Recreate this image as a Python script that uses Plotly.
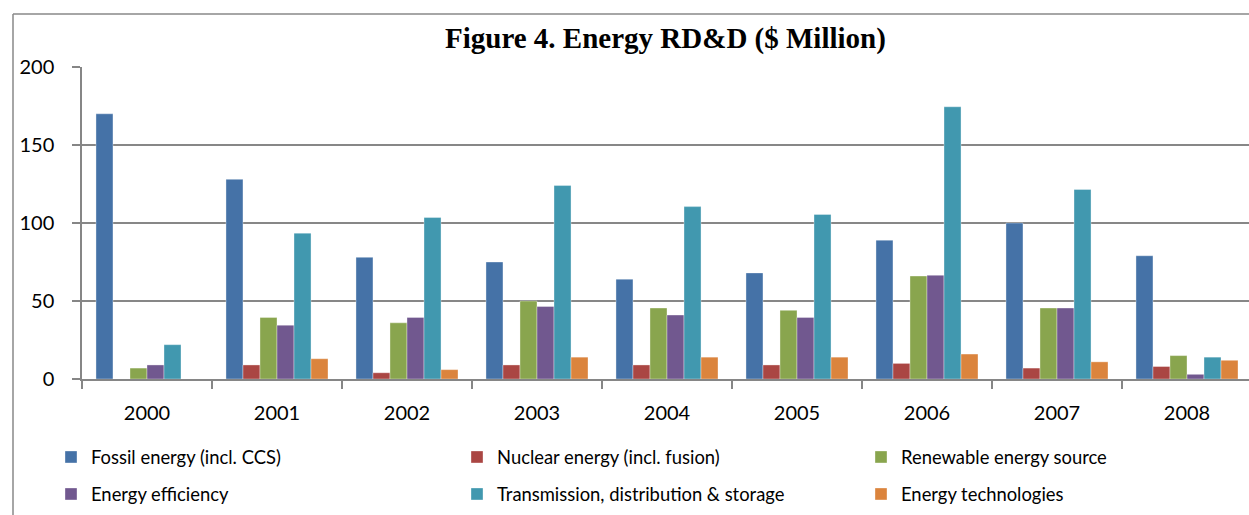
import plotly.graph_objects as go

years = ["2000", "2001", "2002", "2003", "2004", "2005", "2006", "2007", "2008"]
fossil = [170, 128, 78, 75, 64, 68, 89, 100, 79]
nuclear = [0, 9, 4, 9, 9, 9, 10, 7, 8]
renewable = [7, 39.5, 36, 50, 45.5, 44, 66, 45.5, 15]
efficiency = [9, 34.5, 39.5, 46.5, 41, 39.5, 66.5, 45.5, 3]
transmission = [22, 93.5, 103.5, 124, 110.5, 105.5, 174.5, 121.5, 14]
technologies = [0, 13, 6, 14, 14, 14, 16, 11, 12]

series_names = ["Fossil energy (incl. CCS)", "Nuclear energy (incl. fusion)",
                "Renewable energy source", "Energy efficiency",
                "Transmission, distribution & storage", "Energy technologies"]
series_values = [fossil, nuclear, renewable, efficiency, transmission, technologies]
colors = ["#4572A7", "#AA4643", "#89A54E", "#71588F", "#4198AF", "#DB843D"]

W, H = 1249, 515
ML, MR, MT, MB = 82, 0, 67, 136
PW = W - ML - MR
PH = H - MT - MB

def px_x(p):
    return (p - ML) / PW

def px_y(p):
    return (H - MB - p) / PH

legend_names = ["legend", "legend2", "legend3", "legend4", "legend5", "legend6"]
legend_pos = [(51, 457), (457, 457), (861, 457), (51, 494), (457, 494), (861, 494)]

fig = go.Figure()
for name, vals, col, lg in zip(series_names, series_values, colors, legend_names):
    fig.add_trace(go.Bar(
        x=years, y=vals, name=name, legend=lg,
        marker=dict(color=col, line=dict(color="rgba(255,255,255,0.35)", width=1)),
    ))

legend_font = dict(family="Lato, Calibri, sans-serif", size=18.4, color="#000000")
layout_legends = {}
for lg, (lx, ly) in zip(legend_names, legend_pos):
    layout_legends[lg] = dict(
        x=lx / W, y=1 - ly / H, xref="container", yref="container",
        xanchor="left", yanchor="middle",
        orientation="v", font=legend_font, bgcolor="rgba(0,0,0,0)",
        borderwidth=0, itemwidth=30,
    )

fig.update_layout(
    width=W, height=H,
    margin=dict(l=ML, r=MR, t=MT, b=MB, pad=0, autoexpand=False),
    paper_bgcolor="white", plot_bgcolor="white",
    barmode="group", bargap=0.215, bargroupgap=0,
    showlegend=True,
    **layout_legends,
)

fig.update_xaxes(
    type="category", range=[-0.5, -0.5 + PW / 130.0],
    tickson="boundaries", ticks="outside", ticklen=8, tickcolor="#868686", tickwidth=1.5,
    showline=True, linecolor="#868686", linewidth=1.5,
    showgrid=False, automargin=False,
    tickfont=dict(family="Lato, Calibri, sans-serif", size=20, color="#000000"),
    ticklabelstandoff=15,
)
fig.update_yaxes(
    range=[0, 200], dtick=50, tick0=0,
    ticks="outside", ticklen=8, tickcolor="#868686", tickwidth=1.5,
    showline=True, linecolor="#868686", linewidth=1.5,
    showgrid=True, gridcolor="#878787", gridwidth=1.5,
    zeroline=False, automargin=False,
    tickfont=dict(family="Lato, Calibri, sans-serif", size=20, color="#000000"),
    ticklabelstandoff=14,
)

fig.add_annotation(
    text="<b>Figure 4. Energy RD&amp;D ($ Million)</b>",
    x=px_x(665), y=px_y(38), xref="paper", yref="paper",
    xanchor="center", yanchor="middle", showarrow=False,
    font=dict(family="Liberation Serif, Times New Roman, serif", size=29, color="#000000"),
)

# chart frame (left and top edges visible in the crop)
fig.add_shape(type="line", xref="paper", yref="paper",
              x0=px_x(13), x1=px_x(13), y0=px_y(14), y1=px_y(530),
              line=dict(color="#888888", width=1.5))
fig.add_shape(type="line", xref="paper", yref="paper",
              x0=px_x(13), x1=px_x(1260), y0=px_y(14), y1=px_y(14),
              line=dict(color="#888888", width=1.5))

fig.write_html(
    "out.html",
    config={"displayModeBar": False},
    post_script="document.body.style.margin='0px';document.body.style.overflow='hidden';",
)
